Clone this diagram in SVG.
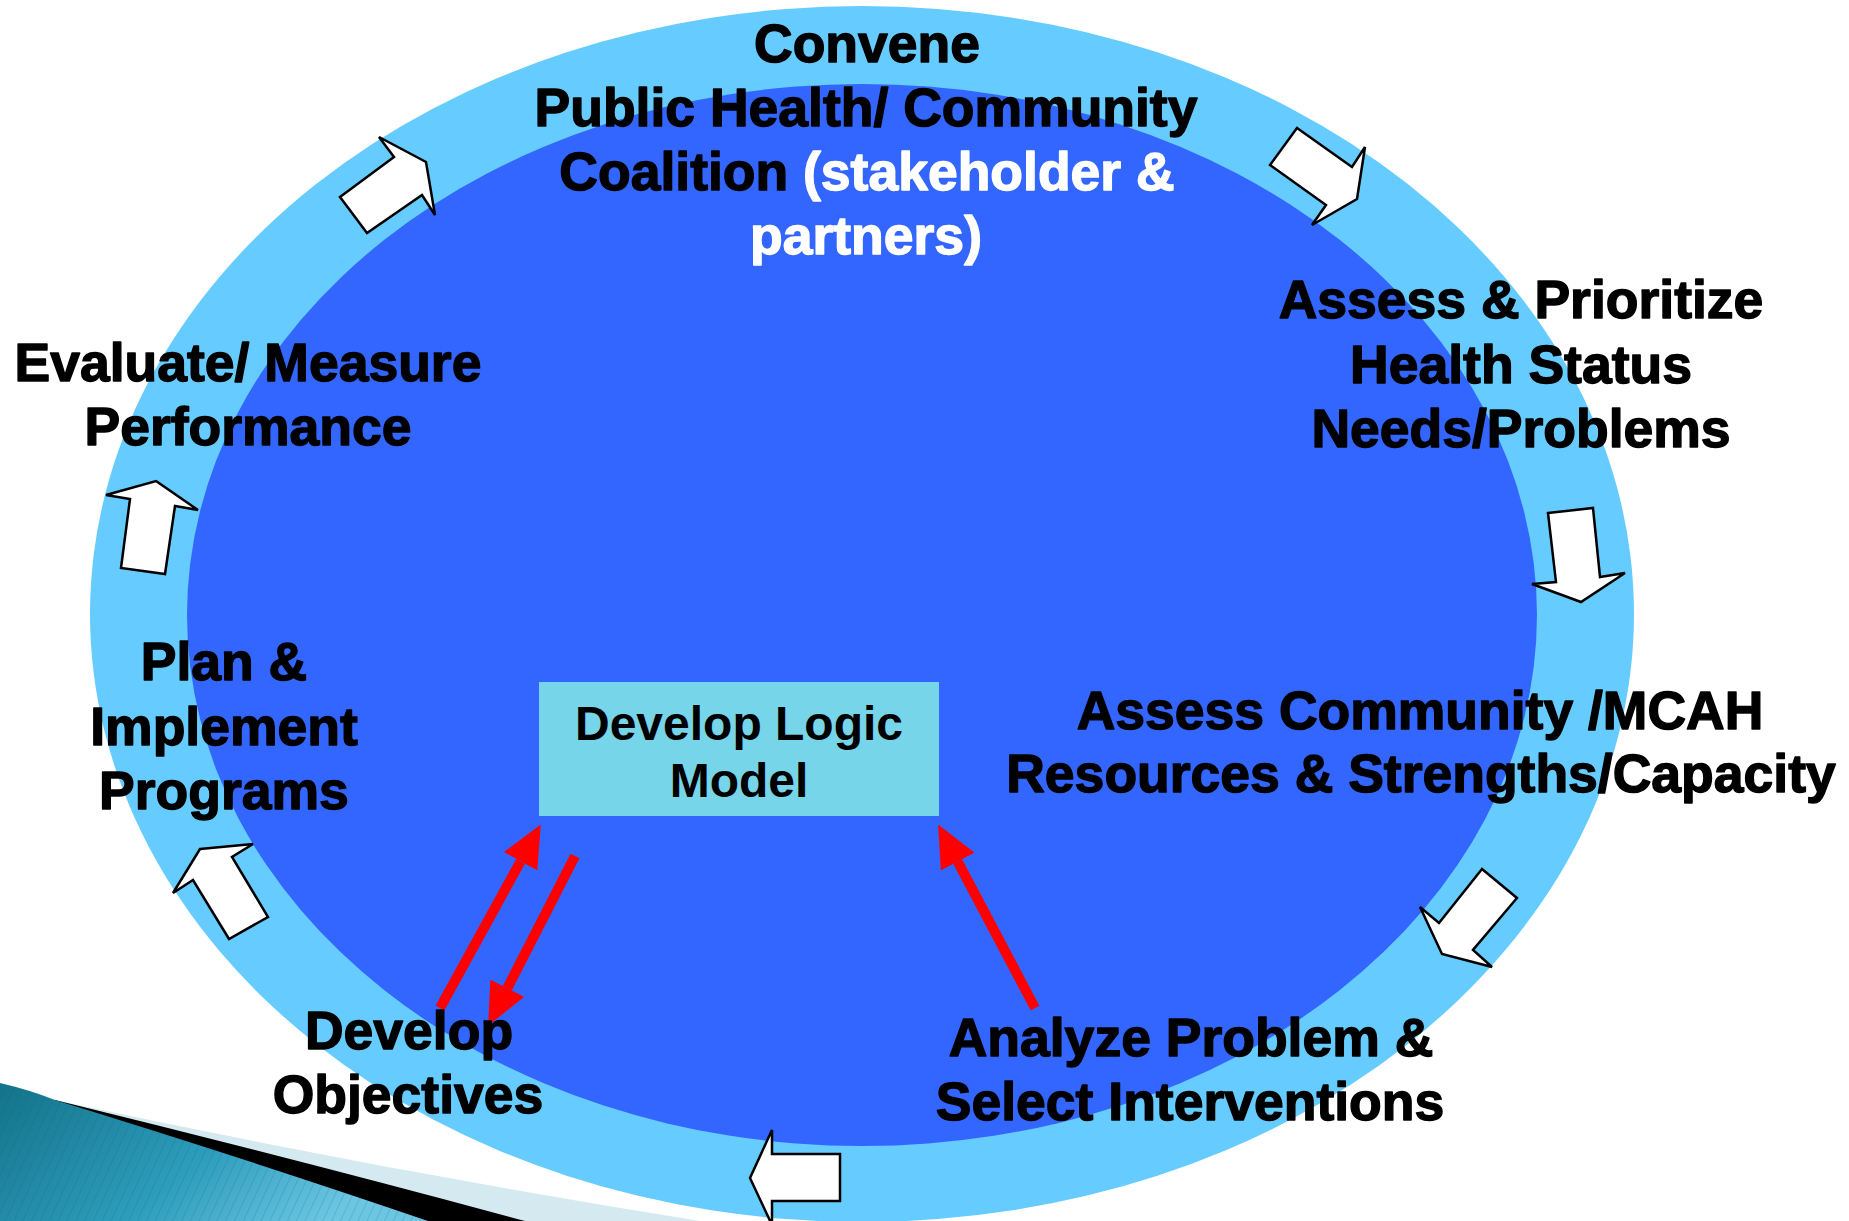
<svg xmlns="http://www.w3.org/2000/svg" width="1849" height="1221" viewBox="0 0 1849 1221">
<style>
.lbl{font-family:"Liberation Sans",Arial,sans-serif;font-weight:bold;font-size:53.5px;fill:#000;stroke:#000;stroke-width:1.4;stroke-linejoin:round;text-anchor:middle}
.wht{fill:#fff;stroke:#fff}
.box{font-family:"Liberation Sans",Arial,sans-serif;font-weight:bold;font-size:48px;fill:#000;text-anchor:middle}
.blk{fill:#fff;stroke:#000;stroke-width:2.5;stroke-linejoin:miter}
.red{stroke:#ff0000;stroke-width:10;fill:none}
</style>
<defs>
<marker id="rh" markerUnits="userSpaceOnUse" markerWidth="42" markerHeight="38" viewBox="0 0 42 38" refX="0" refY="19" orient="auto">
<path d="M0,0 L42,19 L0,38 Z" fill="#ff0000"/>
</marker>
<linearGradient id="teal" x1="0" y1="0" x2="1" y2="0.4">
<stop offset="0" stop-color="#137389"/>
<stop offset="0.6" stop-color="#2E9DBD"/>
<stop offset="1" stop-color="#6CC6E2"/>
</linearGradient>
<pattern id="stripes" width="8" height="8" patternUnits="userSpaceOnUse" patternTransform="rotate(25)">
<rect width="8" height="8" fill="none"/>
<line x1="0" y1="0" x2="0" y2="8" stroke="#0d5f73" stroke-width="1.5" stroke-opacity="0.25"/>
</pattern>
</defs>
<rect width="1849" height="1221" fill="#ffffff"/>
<g id="decoration">
<path d="M55,1100 Q380,1170 700,1221 L0,1221 Z" fill="#D5E9F1"/>
<path d="M55,1100 Q300,1160 525,1221 L0,1221 Z" fill="#000000"/>
<path d="M0,1083 Q30,1090 55,1100 Q250,1160 428,1221 L0,1221 Z" fill="url(#teal)"/>
<path d="M0,1083 Q30,1090 55,1100 Q250,1160 428,1221 L0,1221 Z" fill="url(#stripes)"/>
</g>
<g id="cycle">
<ellipse cx="862" cy="614" rx="772" ry="608" fill="#66CCFF"/>
<ellipse cx="862" cy="615" rx="675" ry="531" fill="#3366FF"/>
</g>
<g id="connectors">
<polygon class="blk" points="379,137 426,162 435,215 422,195 367,233 340,197 394,157"/>
<polygon class="blk" points="1297,128 1352,167 1365,147 1357,199 1312,225 1326,205 1270,165"/>
<polygon class="blk" points="1548,513 1593,508 1600,577 1625,573 1581,602 1532,584 1556,582"/>
<polygon class="blk" points="1482,869 1517,898 1473,950 1492,967 1442,954 1420,907 1439,923"/>
<polygon class="blk" points="772,1130 772,1154 840,1154 840,1201 772,1201 772,1225 750,1178"/>
<polygon class="blk" points="200,849 253,844 232,857 268,917 229,939 193,880 173,893"/>
<polygon class="blk" points="156,481 198,510 175,506 165,574 121,568 130,499 106,495"/>
<line class="red" x1="440" y1="1008" x2="520.6" y2="861.3" marker-end="url(#rh)"/>
<line class="red" x1="575" y1="856" x2="507.3" y2="988.2" marker-end="url(#rh)"/>
<line class="red" x1="1035" y1="1008" x2="957.7" y2="861.6" marker-end="url(#rh)"/>
</g>
<g id="convene">
<text class="lbl" x="867" y="62">Convene</text>
<text class="lbl" x="866" y="126">Public Health/ Community</text>
<text class="lbl" x="867" y="190">Coalition <tspan class="wht">(stakeholder &amp;</tspan></text>
<text class="lbl wht" x="866" y="254">partners)</text>
</g>
<g id="assess-prioritize">
<text class="lbl" x="1521" y="318">Assess &amp; Prioritize</text>
<text class="lbl" x="1521" y="383">Health Status</text>
<text class="lbl" x="1521" y="447">Needs/Problems</text>
</g>
<g id="assess-community">
<text class="lbl" x="1420" y="729">Assess Community /MCAH</text>
<text class="lbl" x="1421" y="792">Resources &amp; Strengths/Capacity</text>
</g>
<g id="analyze">
<text class="lbl" x="1191" y="1056">Analyze Problem &amp;</text>
<text class="lbl" x="1190" y="1120">Select Interventions</text>
</g>
<g id="objectives">
<text class="lbl" x="409" y="1049">Develop</text>
<text class="lbl" x="408" y="1113">Objectives</text>
</g>
<g id="plan">
<text class="lbl" x="224" y="680">Plan &amp;</text>
<text class="lbl" x="224" y="745">Implement</text>
<text class="lbl" x="224" y="809">Programs</text>
</g>
<g id="evaluate">
<text class="lbl" x="248" y="381">Evaluate/ Measure</text>
<text class="lbl" x="248" y="445">Performance</text>
</g>
<g id="logic-model">
<rect x="539" y="682" width="400" height="134" fill="#77D5EA"/>
<text class="box" x="739" y="740">Develop Logic</text>
<text class="box" x="739" y="797">Model</text>
</g>
</svg>
